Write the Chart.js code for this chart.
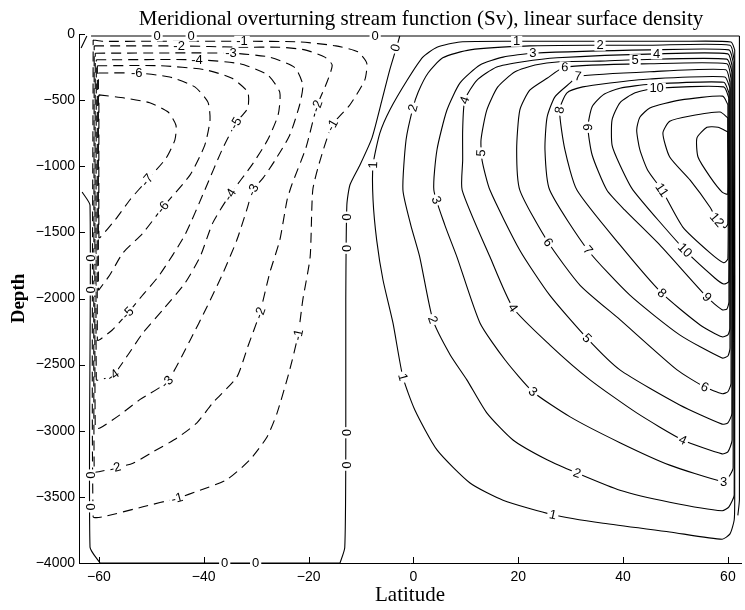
<!DOCTYPE html>
<html>
<head>
<meta charset="utf-8">
<script src="https://cdn.jsdelivr.net/npm/chart.js@4.4.1/dist/chart.umd.min.js"></script>
<style>
  html, body { margin: 0; padding: 0; background: #fff; }
  canvas { display: block; }
</style>
</head>
<body>
<canvas id="chart" width="745" height="610"></canvas>
<script>
// Overturning stream function contours, [latitude, depth] per vertex

const titleText = 'Meridional overturning stream function (Sv), linear surface density';
const latTicks = [-60, -40, -20, 0, 20, 40, 60];
const depthTicks = [0, -500, -1000, -1500, -2000, -2500, -3000, -3500, -4000];

// northern (positive) cell, closed against the northern wall
const pos1 = [[61.3,-120],[60.6,-60],[50.8,-55],[35.6,-55],[19.7,-55],[8.9,-60],[4.5,-100],[1.8,-175],[-1.2,-350],[-4.5,-575],[-6.4,-750],[-7.7,-990],[-7.7,-1255],[-7.0,-1560],[-5.8,-1860],[-3.9,-2185],[-2.0,-2595],[0.3,-2845],[4.5,-3145],[10.8,-3395],[17.1,-3525],[26.6,-3635],[36.2,-3700],[48.9,-3765],[58.9,-3820],[60.4,-3780],[61.2,-3675],[61.3,-3525]];
const pos2 = [[61.2,-200],[60.4,-85],[45.1,-85],[35.6,-85],[22.2,-90],[10.8,-120],[5.6,-180],[2.8,-295],[0.9,-440],[-0.1,-560],[-1.4,-800],[-2.0,-1180],[-0.5,-1445],[1.2,-1685],[3.7,-2160],[7.0,-2425],[10.2,-2615],[14.0,-2865],[19.0,-3070],[25.5,-3220],[31.2,-3320],[39.4,-3450],[48.9,-3540],[58.9,-3605],[60.2,-3575],[61.2,-3485]];
const pos3 = [[61.0,-210],[60.2,-120],[45.1,-120],[22.8,-145],[17.1,-175],[12.7,-235],[8.9,-370],[6.4,-575],[4.5,-875],[3.9,-1180],[6.0,-1445],[8.3,-1685],[12.7,-2185],[17.5,-2465],[22.8,-2705],[29.9,-2895],[39.4,-3090],[48.9,-3260],[58.5,-3380],[59.8,-3370],[61.0,-3280]];
const pos4 = [[60.8,-240],[60.0,-150],[46.4,-150],[27.4,-180],[20.9,-210],[15.9,-250],[12.1,-350],[9.8,-500],[9.4,-725],[9.4,-955],[9.3,-1180],[14.6,-1685],[19.0,-2070],[26.0,-2350],[33.7,-2615],[42.6,-2865],[51.4,-3070],[58.9,-3175],[60.0,-3160],[60.8,-3070]];
const pos5 = [[60.8,-290],[59.8,-190],[42.3,-195],[35.6,-205],[27.9,-210],[23.2,-235],[19.4,-285],[16.1,-400],[14.0,-575],[12.9,-800],[13.1,-955],[14.6,-1180],[20.3,-1635],[26.0,-1975],[33.1,-2300],[39.4,-2540],[50.8,-2805],[58.9,-2950],[60.0,-2940],[60.8,-2865]];
const pos6 = [[60.6,-335],[59.8,-225],[45.1,-225],[28.9,-250],[25.5,-335],[22.2,-425],[20.3,-575],[19.7,-875],[20.3,-1180],[25.7,-1575],[31.8,-1900],[39.4,-2160],[50.3,-2540],[55.6,-2670],[58.9,-2720],[60.0,-2705],[60.6,-2640]];
const pos7 = [[60.4,-365],[59.6,-270],[45.1,-285],[31.4,-320],[29.9,-370],[27.0,-475],[25.5,-630],[25.1,-875],[26.0,-1180],[33.3,-1635],[41.3,-1975],[50.8,-2275],[58.9,-2450],[60.0,-2435],[60.4,-2375]];
const pos8 = [[60.4,-410],[59.4,-325],[45.1,-340],[37.5,-370],[32.3,-400],[29.3,-445],[27.9,-575],[28.9,-875],[31.2,-1180],[39.4,-1595],[47.4,-1960],[54.7,-2200],[58.9,-2290],[60.0,-2275],[60.4,-2225]];
const pos9 = [[60.2,-445],[59.2,-365],[45.1,-380],[39.4,-410],[36.2,-460],[34.1,-550],[33.3,-705],[34.1,-915],[36.9,-1180],[40.3,-1330],[47.0,-1595],[56.0,-1990],[58.9,-2085],[59.8,-2080],[60.2,-2025]];
const pos10 = [[60.2,-485],[59.2,-400],[46.4,-410],[42.3,-445],[39.4,-520],[37.9,-650],[37.9,-840],[39.4,-990],[41.9,-1180],[51.8,-1635],[57.5,-1845],[59.2,-1890],[60.2,-1870]];
const pos11 = [[60.0,-535],[59.0,-470],[50.8,-500],[45.1,-560],[43.2,-630],[42.6,-725],[43.2,-875],[44.7,-1030],[47.4,-1180],[51.4,-1460],[56.6,-1655],[59.2,-1730],[60.0,-1700]];
const pos12 = [[60.0,-635],[58.5,-590],[52.8,-620],[48.9,-660],[47.6,-750],[48.9,-930],[52.8,-1105],[56.6,-1310],[57.9,-1405],[59.4,-1465],[60.0,-1435]];
const pos13 = [[60.0,-740],[58.1,-705],[56.0,-705],[54.1,-785],[54.3,-930],[56.6,-1080],[58.9,-1195],[60.0,-1210]];

// southern (negative) cell, closed against the southern wall
const neg1 = [[-61.1,-45],[-59.2,-55],[-50.3,-55],[-32.7,-55],[-21.7,-60],[-14.8,-90],[-10.6,-135],[-8.9,-220],[-9.3,-350],[-12.1,-535],[-15.5,-690],[-17.8,-955],[-19.2,-1180],[-19.7,-1685],[-21.1,-2010],[-22.0,-2275],[-23.6,-2540],[-26.0,-2865],[-27.9,-3045],[-31.2,-3220],[-35.6,-3370],[-40.7,-3450],[-45.1,-3510],[-51.6,-3575],[-59.2,-3650],[-61.1,-3650]];
const neg2 = [[-60.9,-90],[-59.2,-90],[-44.7,-90],[-33.1,-100],[-25.5,-100],[-20.7,-120],[-16.9,-175],[-15.5,-235],[-16.5,-365],[-18.4,-545],[-20.5,-860],[-23.2,-1140],[-24.1,-1255],[-25.5,-1560],[-27.4,-1805],[-29.3,-2110],[-31.6,-2365],[-33.7,-2595],[-38.3,-2790],[-41.3,-2940],[-45.1,-3055],[-49.7,-3160],[-53.5,-3245],[-56.9,-3280],[-60.0,-3310],[-60.9,-3310]];
const neg3 = [[-60.7,-145],[-34.8,-145],[-27.4,-175],[-22.6,-255],[-21.1,-385],[-21.7,-535],[-23.6,-765],[-26.4,-955],[-28.7,-1090],[-30.6,-1180],[-31.8,-1330],[-33.7,-1560],[-36.3,-1805],[-39.4,-2065],[-42.6,-2315],[-47.0,-2630],[-52.2,-2765],[-56.0,-2880],[-59.8,-2980],[-60.7,-2980]];
const neg4 = [[-60.5,-195],[-41.3,-195],[-33.1,-225],[-27.8,-310],[-25.5,-440],[-25.8,-610],[-27.8,-800],[-30.8,-990],[-35.0,-1215],[-38.3,-1430],[-40.7,-1685],[-43.6,-1885],[-47.8,-2085],[-51.6,-2260],[-54.7,-2440],[-57.3,-2580],[-59.8,-2615],[-60.5,-2615]];
const neg5 = [[-60.3,-240],[-48.4,-240],[-39.8,-270],[-34.6,-335],[-31.6,-440],[-31.6,-560],[-33.9,-675],[-36.5,-875],[-39.8,-1180],[-43.6,-1520],[-48.4,-1820],[-52.2,-2000],[-54.5,-2110],[-57.5,-2240],[-60.0,-2315],[-60.3,-2315]];
const neg6 = [[-60.1,-295],[-52.8,-295],[-46.5,-325],[-41.7,-400],[-39.2,-515],[-38.8,-650],[-39.8,-840],[-42.6,-1065],[-47.8,-1310],[-51.6,-1505],[-55.4,-1655],[-57.9,-1820],[-60.0,-1935],[-60.1,-1935]];
const neg7 = [[-60.0,-460],[-55.0,-485],[-50.3,-520],[-46.8,-590],[-45.3,-690],[-45.5,-800],[-47.2,-940],[-50.8,-1105],[-54.1,-1255],[-56.9,-1405],[-59.8,-1540],[-60.0,-1540]];

// zero line pieces
const zeroInterior = [[-2.6,-15],[-3.1,-85],[-4.5,-270],[-6.0,-500],[-7.9,-785],[-10.2,-990],[-12.1,-1140],[-12.7,-1295],[-12.9,-2010],[-12.9,-3145],[-13.1,-3885],[-14.0,-4000]];
const zeroSurface = [[-61.5,-15],[62.2,-15]];
const zeroWest = [[-63.2,-1195],[-61.7,-1295],[-61.7,-3880],[-59.8,-4000]];
const zeroCorner = [[-63.4,-105],[-62.3,-15]];
const zeroEast = [[62.2,-15],[62.2,-3520],[61.9,-3640]];
const zeroBottom = [[-59.8,-4000],[-14.0,-4000]];

// inline labels: [latitude, depth, text, rotation in degrees]
const posLabels = [
  [19.7,-55,'1',0],[-7.7,-990,'1',-88],[-2.0,-2595,'1',75],[26.6,-3635,'1',12],
  [35.6,-85,'2',0],[-0.1,-560,'2',-75],[3.7,-2160,'2',70],[31.2,-3320,'2',20],
  [22.8,-145,'3',0],[4.4,-1255,'3',68],[22.8,-2705,'3',40],[59.2,-3385,'3',0],
  [46.4,-150,'4',0],[9.8,-500,'4',-70],[19.0,-2070,'4',55],[51.4,-3070,'4',25],
  [42.3,-195,'5',0],[12.9,-900,'5',-88],[33.1,-2300,'5',45],
  [28.9,-250,'6',3],[25.7,-1575,'6',55],[55.6,-2670,'6',25],
  [31.4,-320,'7',5],[33.3,-1635,'7',50],
  [27.9,-575,'8',-80],[47.4,-1960,'8',42],
  [33.3,-705,'9',-88],[56.0,-1990,'9',45],
  [46.4,-410,'10',0],[51.8,-1635,'10',45],
  [47.4,-1180,'11',55],
  [57.9,-1405,'12',50]
];
const negLabels = [
  [-32.7,-55,'-1',0],[-15.5,-690,'-1',-61],[-22.0,-2275,'-1',-78],[-45.1,-3510,'-1',-15],
  [-44.7,-90,'-2',0],[-18.4,-545,'-2',-70],[-29.3,-2110,'-2',-70],[-56.9,-3280,'-2',-15],
  [-34.8,-145,'-3',0],[-30.6,-1180,'-3',-65],[-47.0,-2630,'-3',-45],
  [-41.3,-195,'-4',0],[-35.0,-1215,'-4',-58],[-57.3,-2580,'-4',-35],
  [-33.9,-675,'-5',-60],[-54.5,-2110,'-5',-45],
  [-52.8,-295,'-6',0],[-47.8,-1310,'-6',-50],
  [-50.8,-1105,'-7',-50]
];
const zeroLabels = [
  [-3.4,-105,'0',-72],[-7.3,-15,'0',0],[-48.9,-15,'0',0],[-42.4,-15,'0',0],
  [-12.9,-1385,'0',90],[-12.9,-1620,'0',90],[-12.9,-3015,'0',90],[-12.9,-3260,'0',90],
  [-36.0,-4000,'0',0],[-30.1,-4000,'0',0],
  [-61.7,-1695,'0',90],[-61.7,-1935,'0',90],[-61.7,-3335,'0',90],[-61.7,-3575,'0',90]
];

const positive = [pos1, pos2, pos3, pos4, pos5, pos6, pos7, pos8, pos9, pos10, pos11, pos12, pos13];
const negative = [neg1, neg2, neg3, neg4, neg5, neg6, neg7];
const zeroPieces = [zeroInterior, zeroSurface, zeroWest, zeroCorner, zeroEast, zeroBottom];
const allLabels = posLabels.concat(negLabels, zeroLabels);

const toPoints = pts => pts.map(([x, y]) => ({ x, y }));
const closeLoop = pts => toPoints(pts.concat([pts[0]]));
const minus = v => (v < 0 ? '\u2212' + Math.abs(v) : String(v));

const line = (label, data, dashed) => ({
  label,
  data,
  showLine: true,
  borderColor: '#000',
  borderWidth: 1.1,
  borderDash: dashed ? [10, 6] : [],
  tension: 0.2,
  pointRadius: 0
});

const datasets = [];
positive.forEach((c, i) => datasets.push(line(String(i + 1), closeLoop(c), false)));
negative.forEach((c, i) => datasets.push(line('-' + (i + 1), closeLoop(c), true)));
zeroPieces.forEach(c => datasets.push(line('0', toPoints(c), false)));

// clabel-style text sitting in a gap of its line
const contourLabels = {
  id: 'contourLabels',
  afterDatasetsDraw(chart) {
    const { ctx, scales: { x, y } } = chart;
    ctx.save();
    ctx.font = '13px "Liberation Sans", Arial, sans-serif';
    ctx.textAlign = 'center';
    ctx.textBaseline = 'middle';
    allLabels.forEach(([lat, depth, text, angle]) => {
      const px = x.getPixelForValue(lat);
      const py = y.getPixelForValue(depth);
      const w = ctx.measureText(text).width;
      ctx.save();
      ctx.translate(px, py);
      ctx.rotate(angle * Math.PI / 180);
      ctx.fillStyle = '#fff';
      ctx.fillRect(-w / 2 - 2, -5.5, w + 4, 11);
      ctx.fillStyle = '#000';
      ctx.fillText(text, 0, 0.5);
      ctx.restore();
    });
    ctx.restore();
  }
};

// inward tick marks and the heading
const frame = {
  id: 'frame',
  afterDraw(chart) {
    const { ctx, chartArea: a, scales: { x, y } } = chart;
    ctx.save();
    ctx.strokeStyle = '#000';
    ctx.lineWidth = 1;
    ctx.beginPath();
    latTicks.forEach(v => {
      const px = Math.round(x.getPixelForValue(v)) + 0.5;
      ctx.moveTo(px, a.bottom);
      ctx.lineTo(px, a.bottom - 6);
    });
    depthTicks.forEach(v => {
      const py = Math.round(y.getPixelForValue(v)) + 0.5;
      ctx.moveTo(a.left, py);
      ctx.lineTo(a.left + 6, py);
    });
    ctx.stroke();
    ctx.fillStyle = '#000';
    ctx.font = '21px "Liberation Serif", "Times New Roman", serif';
    ctx.textAlign = 'center';
    ctx.textBaseline = 'alphabetic';
    ctx.fillText(titleText, 421, 25);
    ctx.restore();
  }
};

new Chart(document.getElementById('chart'), {
  type: 'scatter',
  data: { datasets },
  options: {
    responsive: false,
    animation: false,
    events: [],
    layout: { padding: { top: 34, right: 4, left: 0, bottom: 0 } },
    plugins: { legend: { display: false }, tooltip: { enabled: false }, title: { display: false } },
    scales: {
      x: {
        type: 'linear',
        position: 'bottom',
        min: -63.8,
        max: 62.5,
        grid: { display: false, drawTicks: false },
        border: { display: true, color: '#000', width: 1 },
        afterBuildTicks: s => { s.ticks = latTicks.map(value => ({ value })); },
        afterFit: s => { s.height = 47; },
        ticks: {
          color: '#000',
          padding: 6,
          maxRotation: 0,
          font: { family: '"Liberation Sans", Arial, sans-serif', size: 14 },
          callback: v => minus(v)
        },
        title: {
          display: true,
          text: 'Latitude',
          color: '#000',
          font: { family: '"Liberation Serif", "Times New Roman", serif', size: 21 },
          padding: { top: 0, bottom: 2 }
        }
      },
      y: {
        type: 'linear',
        min: -4000,
        max: 0,
        grid: { display: false, drawTicks: false },
        border: { display: true, color: '#000', width: 1 },
        afterBuildTicks: s => { s.ticks = depthTicks.map(value => ({ value })); },
        afterFit: s => { s.width = 79; },
        ticks: {
          color: '#000',
          padding: 4,
          font: { family: '"Liberation Sans", Arial, sans-serif', size: 14 },
          callback: v => minus(v)
        },
        title: {
          display: true,
          text: 'Depth',
          color: '#000',
          font: { family: '"Liberation Serif", "Times New Roman", serif', size: 19, weight: 'bold' },
          padding: { top: 8, bottom: 0 }
        }
      }
    }
  },
  plugins: [contourLabels, frame]
});
</script>
</body>
</html>
